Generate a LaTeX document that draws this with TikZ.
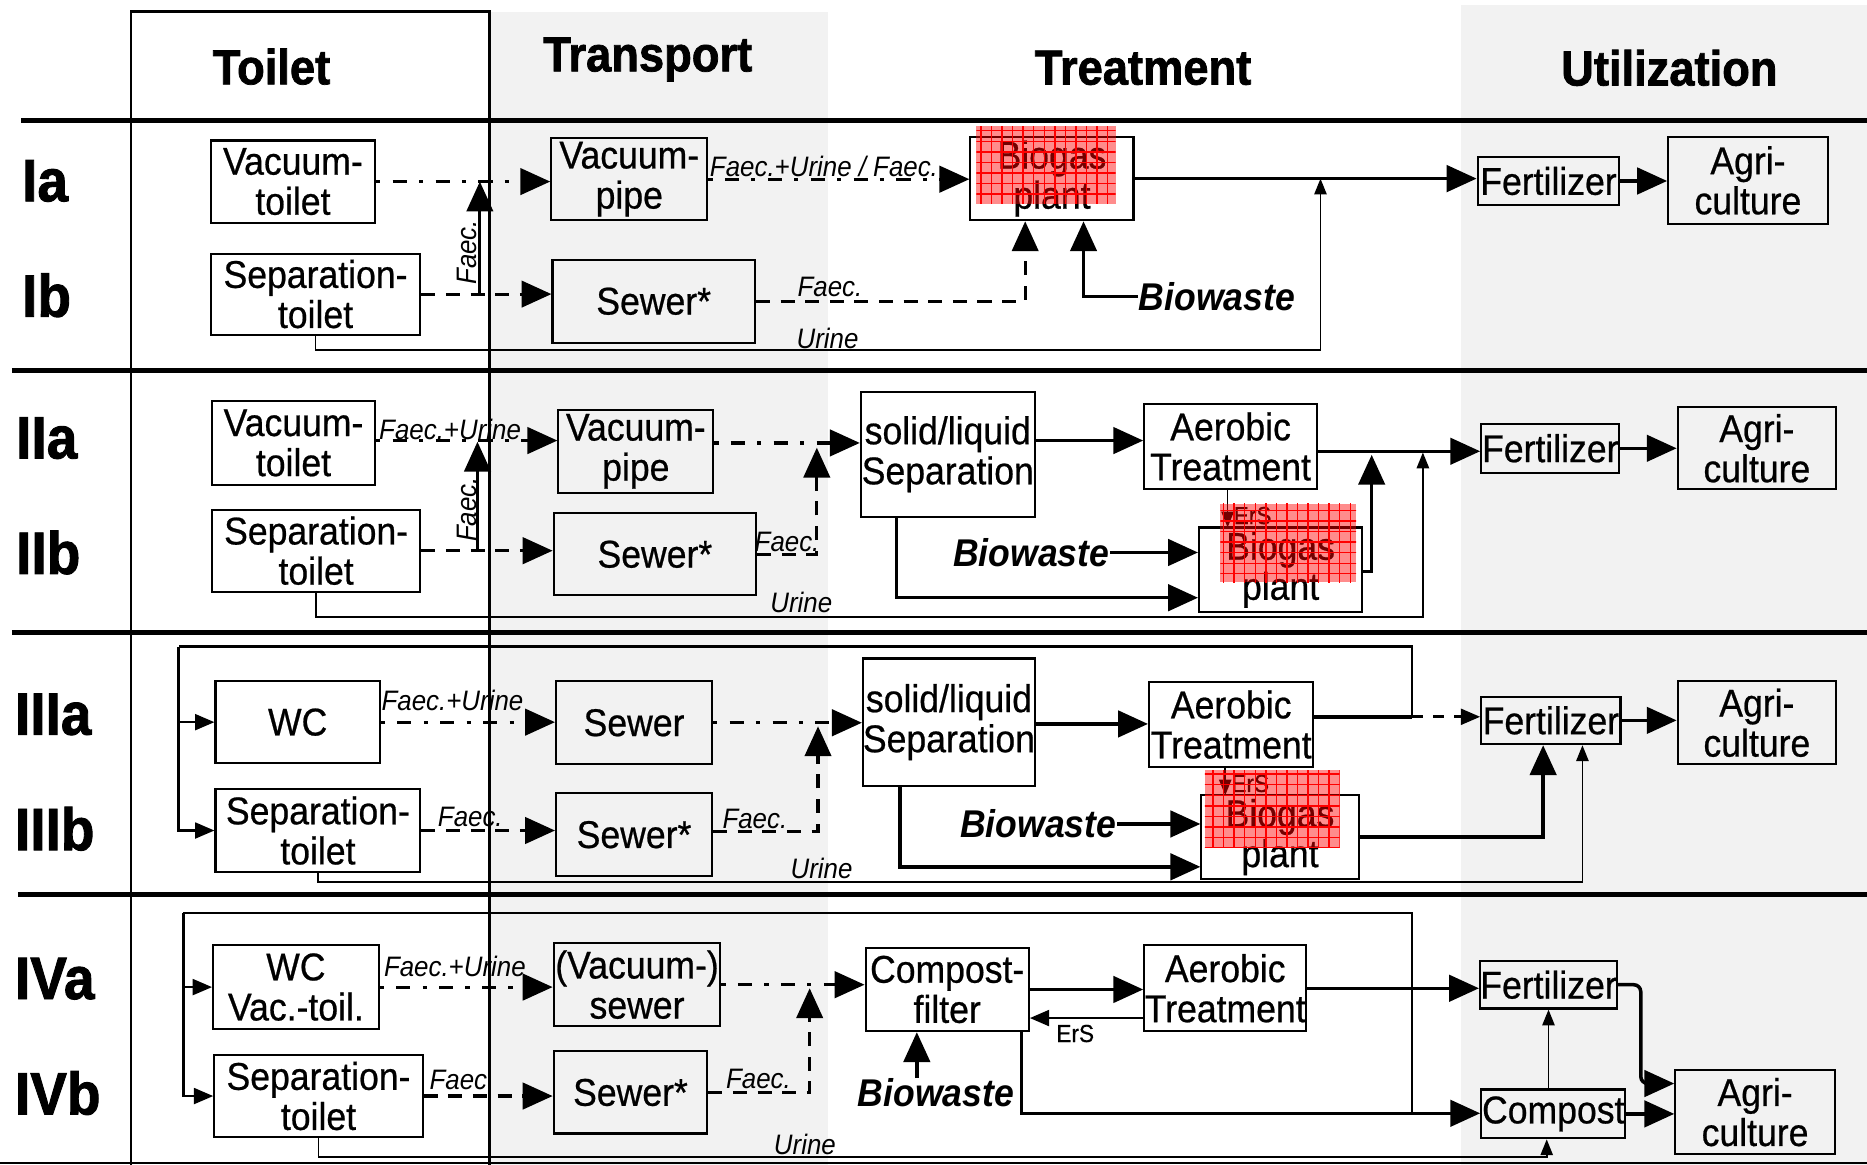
\documentclass[tikz,border=0pt]{standalone}
\usepackage{fontspec}
\setmainfont{Liberation Sans}[FakeStretch=0.92,UprightFeatures={FakeBold=0.6}]
\newfontfamily\headfont{Liberation Sans}[FakeStretch=0.92,BoldFeatures={FakeBold=1.5}]
\usetikzlibrary{arrows.meta, patterns}

\definecolor{colbg}{RGB}{242,242,242}
\newcommand{\boxfont}{\fontsize{11}{11.4}\selectfont}
% box from its corners (x1,y1) (x2,y2): name, x1, y1, x2, y2, text
\newcommand{\unitbox}[6]{%
  \node[box, minimum width={(#4-#2)*0.011907cm}, minimum height={(#5-#3)*0.011907cm}]
    (#1) at ({(#2+#4)/2},{(#3+#5)/2}) {#6};}

\begin{document}
\begin{tikzpicture}[
    x=0.011907cm, y=-0.011907cm,
    box/.style={draw, line width=0.6pt, inner sep=0pt, align=center, font=\boxfont},
    colhead/.style={font=\headfont\bfseries\fontsize{14}{16}\selectfont},
    rowlab/.style={anchor=west, inner sep=0pt, font=\headfont\bfseries\fontsize{17}{19}\selectfont},
    lab/.style={inner sep=0pt, font=\itshape\fontsize{8}{9}\selectfont},
    erslab/.style={inner sep=0pt, font=\fontsize{7}{8}\selectfont},
    bio/.style={inner sep=0pt, font=\bfseries\itshape\fontsize{11}{12}\selectfont},
    bigtip/.style={-{Triangle[length=8.5pt,width=7.5pt]}},
    midtip/.style={-{Triangle[length=5.5pt,width=4.5pt]}},
    flow/.style={line width=1pt, bigtip},
    thinflow/.style={line width=0.5pt, -{Triangle[length=4.5pt,width=3.5pt]}},
    retline/.style={line width=0.7pt, midtip},
    dsh/.style={line width=0.9pt, dash pattern=on 4pt off 3pt, bigtip},
    dshdot/.style={line width=0.9pt, dash pattern=on 1.2pt off 3.5pt on 4pt off 3.5pt, bigtip},
    rowline/.style={line width=1.5pt},
    hot/.style={fill=red, fill opacity=0.45}
]
\useasboundingbox (0,0) rectangle (1568,978);

% =========================
% COLUMNS AND ROWS
% =========================
\fill[colbg] (411,10) rectangle (695,978);
\fill[colbg] (1227,4) rectangle (1568,978);
\draw[line width=0.8pt] (110,978) -- (110,10) -- (411,10) -- (411,978);

\draw[rowline] (18,101) -- (1568,101);
\draw[rowline] (10,311) -- (1568,311);
\draw[rowline] (10,531) -- (1568,531);
\draw[rowline] (15,751) -- (1568,751);
\draw[line width=0.6pt] (0,977) -- (1568,977);

\node[colhead] (hToilet) at (228,56) {Toilet};
\node[colhead] (hTransport) at (544,50) {Transport};
\node[colhead] (hTreatment) at (960,57) {Treatment};
\node[colhead] (hUtil) at (1402,57) {Utilization};

\node[rowlab] (rIa) at (18,152) {Ia};
\node[rowlab] (rIb) at (18,248) {Ib};
\node[rowlab] (rIIa) at (13,368) {IIa};
\node[rowlab] (rIIb) at (13,464) {IIb};
\node[rowlab] (rIIIa) at (12,600) {IIIa};
\node[rowlab] (rIIIb) at (12,696) {IIIb};
\node[rowlab] (rIVa) at (12,822) {IVa};
\node[rowlab] (rIVb) at (12,918) {IVb};

% =========================
% ROW I
% =========================
\unitbox{vt1}{177}{118}{315}{187}{Vacuum-\\toilet}
\unitbox{st1}{177}{213}{353}{281}{Separation-\\toilet}
\unitbox{vp1}{463}{116}{594}{185}{Vacuum-\\pipe}
\unitbox{sw1}{464}{218}{634}{288}{Sewer*}
\unitbox{bg1}{815}{115}{952}{185}{Biogas\\plant}
\unitbox{fe1}{1241}{132}{1360}{172}{Fertilizer}
\unitbox{ag1}{1401}{115}{1535}{188}{Agri-\\culture}
\node[bio] (bw1) at (1022,249) {Biowaste};

\coordinate (j1a) at (403,247);
\coordinate (j1b) at (861,0);
\coordinate (j1c) at (910,0);
\coordinate (j1d) at (1109,294);

\draw[dshdot] (vt1.east) -- (vt1.east -| vp1.west);
\draw[line width=0.9pt, bigtip] (j1a) -- (j1a |- vt1.east);
\draw[dsh] (st1.east) -- (st1.east -| sw1.west);
\draw[dshdot] (vp1.east) -- (vp1.east -| bg1.west);
\draw[dsh] (sw1.east) -| (j1b |- bg1.south);
\draw[flow] (bw1.west) -| (j1c |- bg1.south);
\draw[flow] (bg1.east) -- (bg1.east -| fe1.west);
\draw[thinflow] (st1.south) |- (j1d) -- (j1d |- bg1.east);
\draw[flow] (fe1.east) -- (fe1.east -| ag1.west);

\node[lab, rotate=90] (lf1) at (392,212) {Faec.};
\node[lab] (lfu1) at (692,140) {Faec.+Urine / Faec.};
\node[lab] (lfs1) at (697,241) {Faec.};
\node[lab] (lu1) at (695,284) {Urine};

% =========================
% ROW II
% =========================
\unitbox{vt2}{178}{337}{315}{407}{Vacuum-\\toilet}
\unitbox{st2}{178}{428}{353}{497}{Separation-\\toilet}
\unitbox{vp2}{469}{344}{599}{414}{Vacuum-\\pipe}
\unitbox{sw2}{465}{431}{635}{500}{Sewer*}
\unitbox{sl2}{723}{329}{869}{434}{solid/liquid\\Separation}
\unitbox{ae2}{961}{339}{1106}{411}{Aerobic\\Treatment}
\unitbox{bg2}{1007}{443}{1144}{514}{Biogas\\plant}
\unitbox{fe2}{1244}{356}{1360}{397}{Fertilizer}
\unitbox{ag2}{1409}{342}{1542}{411}{Agri-\\culture}
\node[bio] (bw2) at (866,464) {Biowaste};

\coordinate (j2a) at (401,463);
\coordinate (j2b) at (686,376);
\coordinate (j2c) at (1195,518);
\coordinate (j2d) at (1152,382);
\coordinate (j2e) at (753,502);

\draw[dshdot] (vt2.east |- 0,370) -- (vp2.west |- 0,370);
\draw[line width=0.9pt, bigtip] (j2a) -- (j2a |- 0,371);
\draw[dsh] (st2.east) -- (st2.east -| sw2.west);
\draw[dshdot] (vp2.east |- 0,372) -- (sl2.west |- 0,372);
\draw[dsh] (sw2.east) -| (j2b);
\draw[thinflow] (st2.south) |- (j2c) -- (j2c |- 0,380);
\draw[flow] (sl2.east |- 0,370) -- (ae2.west |- 0,370);
\draw[line width=1pt, bigtip] (ae2.east |- 0,379) -- (fe2.west |- 0,379);
\draw[flow] (bg2.east |- 0,480) -| (j2d);
\draw[flow] (j2e |- sl2.south) -- (j2e) -- (j2e -| bg2.west);
\draw[flow] (bw2.east) -- (bw2.east -| bg2.west);
\draw[thinflow] (ae2.south -| 1031,0) -- (1031,443);
\draw[flow] (fe2.east) -- (fe2.east -| ag2.west);

\node[lab, rotate=90] (lf2) at (392,428) {Faec.};
\node[lab] (lfu2) at (378,361) {Faec.+Urine};
\node[lab] (lfs2) at (661,455) {Faec.};
\node[lab] (lu2) at (673,506) {Urine};
\node[erslab] (le2) at (1052,433) {ErS};

% =========================
% ROW III
% =========================
\unitbox{wc3}{181}{572}{319}{641}{WC}
\unitbox{st3}{181}{663}{353}{732}{Separation-\\toilet}
\unitbox{sr3}{467}{572}{598}{642}{Sewer}
\unitbox{sw3}{467}{666}{598}{736}{Sewer*}
\unitbox{sl3}{725}{553}{869}{660}{solid/liquid\\Separation}
\unitbox{ae3}{965}{573}{1103}{644}{Aerobic\\Treatment}
\unitbox{bg3}{1009}{668}{1141}{738}{Biogas\\plant}
\unitbox{fe3}{1244}{585}{1361}{625}{Fertilizer}
\unitbox{ag3}{1409}{572}{1542}{642}{Agri-\\culture}
\node[bio] (bw3) at (872,692) {Biowaste};

\coordinate (j3a) at (1186,602);
\coordinate (j3b) at (150,543);
\coordinate (j3c) at (687,610);
\coordinate (j3d) at (1329,741);
\coordinate (j3e) at (1296,0);
\coordinate (j3f) at (756,728);

\draw[line width=0.7pt] (j3a) |- (j3b);
\draw[retline] (j3b) |- (st3.west);
\draw[retline] (j3b |- wc3.west) -- (wc3.west);
\draw[dshdot] (wc3.east) -- (wc3.east -| sr3.west);
\draw[dsh] (st3.east) -- (st3.east -| sw3.west);
\draw[dshdot] (sr3.east) -- (sr3.east -| sl3.west);
\draw[dsh] (sw3.east |- 0,698) -| (j3c);
\draw[thinflow] (st3.south) |- (j3d) -- (j3d |- fe3.south);
\draw[flow] (sl3.east |- 0,608) -- (ae3.west |- 0,608);
\draw[line width=1pt] (ae3.east |- j3a) -- (j3a);
\draw[line width=0.8pt, dash pattern=on 3pt off 3pt, midtip] (j3a) -- (j3a -| fe3.west);
\draw[flow] (bg3.east) -| (j3e |- fe3.south);
\draw[flow] (j3f |- sl3.south) -- (j3f) -- (j3f -| bg3.west);
\draw[flow] (bw3.east) -- (bw3.east -| bg3.west);
\draw[thinflow] (ae3.south -| 1029,0) -- (1029,668);
\draw[flow] (fe3.east) -- (fe3.east -| ag3.west);

\node[lab] (lfu3) at (380,588) {Faec.+Urine};
\node[lab] (lfs3a) at (395,686) {Faec.};
\node[lab] (lfs3b) at (634,688) {Faec.};
\node[lab] (lu3) at (690,729) {Urine};
\node[erslab] (le3) at (1050,658) {ErS};

% =========================
% ROW IV
% =========================
\unitbox{wc4}{179}{794}{318}{864}{WC\\Vac.-toil.}
\unitbox{st4}{180}{886}{355}{955}{Separation-\\toilet}
\unitbox{vs4}{465}{792}{605}{862}{(Vacuum-)\\sewer}
\unitbox{sw4}{465}{883}{594}{952}{Sewer*}
\unitbox{cf4}{727}{796}{864}{866}{Compost-\\filter}
\unitbox{ae4}{961}{794}{1097}{866}{Aerobic\\Treatment}
\unitbox{fe4}{1243}{807}{1358}{847}{Fertilizer}
\unitbox{co4}{1244}{915}{1365}{956}{Compost}
\unitbox{ag4}{1407}{899}{1541}{969}{Agri-\\culture}
\node[bio] (bw4) at (786,918) {Biowaste};

\coordinate (j4a) at (1186,935);
\coordinate (j4b) at (154,767);
\coordinate (j4c) at (680,830);
\coordinate (j4d) at (1299,972);
\coordinate (j4e) at (858,935);
\coordinate (j4f) at (770,0);
\coordinate (j4g) at (1378,910);

\draw[line width=0.7pt] (j4a) |- (j4b);
\draw[retline] (j4b) |- (st4.west);
\draw[retline] (j4b |- wc4.west) -- (wc4.west);
\draw[dshdot] (wc4.east) -- (wc4.east -| vs4.west);
\draw[dsh] (st4.east) -- (st4.east -| sw4.west);
\draw[dshdot] (vs4.east) -- (vs4.east -| cf4.west);
\draw[dsh] (sw4.east) -| (j4c);
\draw[thinflow] (st4.south) |- (j4d) -- (j4d |- co4.south);
\draw[flow] (cf4.east) -- (cf4.east -| ae4.west);
\draw[line width=0.8pt, midtip] (ae4.west |- 0,855) -- (cf4.east |- 0,855);
\draw[flow] (ae4.east) -- (ae4.east -| fe4.west);
\draw[flow] (j4e |- cf4.south) -- (j4e) -- (j4e -| co4.west);
\draw[flow] (j4f |- bw4.north) -- (j4f |- cf4.south);
\draw[thinflow] (fe4.south |- co4.north) -- (fe4.south);
\draw[flow, rounded corners=2pt] (fe4.east) -| (j4g) -- (j4g -| ag4.west);
\draw[flow] (co4.east) -- (co4.east -| ag4.west);

\node[lab] (lfu4) at (382,812) {Faec.+Urine};
\node[lab] (lfs4a) at (388,907) {Faec.};
\node[lab] (lfs4b) at (637,906) {Faec.};
\node[lab] (lu4) at (676,961) {Urine};
\node[erslab] (le4) at (903,868) {ErS};

% =========================
% HIGHLIGHTS
% =========================
\foreach \xa/\ya/\xb/\yb in {820/106/937/171, 1025/423/1139/489, 1012/647/1125/712} {
    \fill[hot] (\xa,\ya) rectangle (\xb,\yb);
    \fill[pattern=grid, pattern color=red] (\xa,\ya) rectangle (\xb,\yb);
}
\end{tikzpicture}
\end{document}
